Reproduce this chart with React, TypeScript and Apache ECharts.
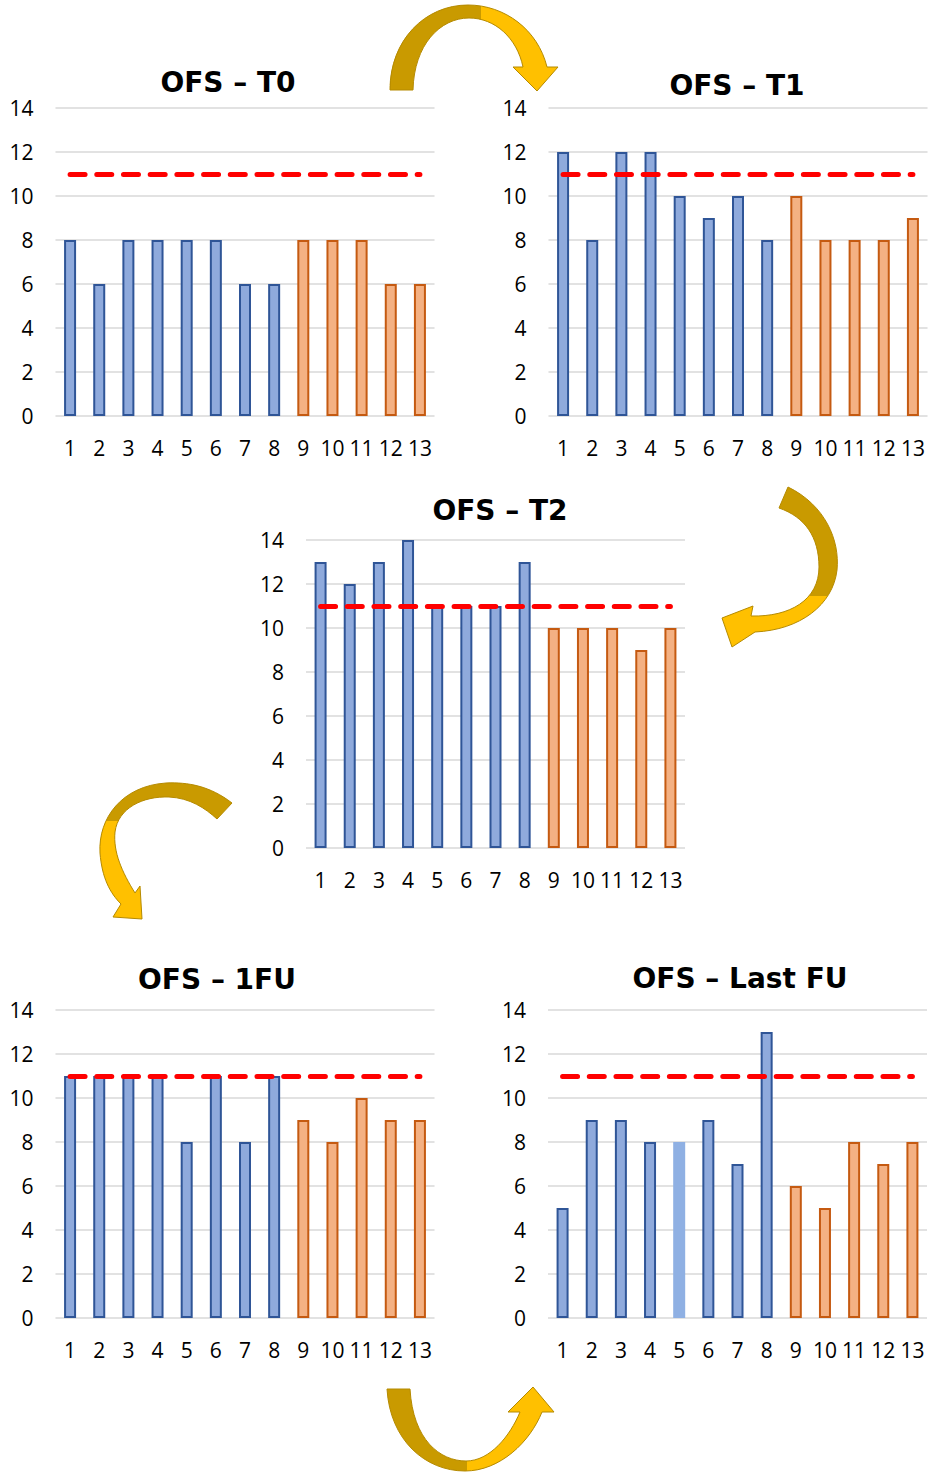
import React, { useEffect, useRef } from "react";
import * as echarts from "echarts";

// ---------- data ----------
const CATEGORIES = ["1", "2", "3", "4", "5", "6", "7", "8", "9", "10", "11", "12", "13"];
const T0_VALUES = [8, 6, 8, 8, 8, 8, 6, 6, 8, 8, 8, 6, 6];
const T1_VALUES = [12, 8, 12, 12, 10, 9, 10, 8, 10, 8, 8, 8, 9];
const T2_VALUES = [13, 12, 13, 14, 11, 11, 11, 13, 10, 10, 10, 9, 10];
const FU1_VALUES = [11, 11, 11, 11, 8, 11, 8, 11, 9, 8, 10, 9, 9];
const LASTFU_VALUES = [5, 9, 9, 8, 8, 9, 7, 13, 6, 5, 8, 7, 8];
const TITLES = ["OFS – T0", "OFS – T1", "OFS – T2", "OFS – 1FU", "OFS – Last FU"];
const Y_TICKS = [0, 2, 4, 6, 8, 10, 12, 14];
const THRESHOLD = 11;
const BLUE_COUNT = 8; // categories 1..8 blue, 9..13 orange
const LASTFU_BORDERLESS = ["5"]; // bar drawn without outline in last panel

// ---------- arrows (decorative shapes) ----------
const ARROWS: Record<string, { d: string; grad: number[]; split: number; darkFirst: boolean }> = {
  arrowTop: {
    d: "M390 90 C390 40 425 5 468 5 C505 5 538 30 547 67 L558 67 L537 91 L513 67 L523 67 C517 38 495 18 469 18 C440 18 414 45 413 90 Z",
    grad: [0, 0, 1, 0],
    split: 0.54,
    darkFirst: true,
  },
  arrowRight: {
    d: "M788 487 C825 505 840 540 837 570 C833 605 800 630 755 632 L732 647 L722 618 L753 606 L751 616 C790 617 819 600 819 567 C819 537 805 517 779 508 Z",
    grad: [0, 0, 0, 1],
    split: 0.68,
    darkFirst: true,
  },
  arrowLeft: {
    d: "M232 803 C210 786 188 782 166 783 C122 786 98 818 100 853 C102 878 110 893 121 904 L113 917 L142 919 L140 886 L135 893 C122 872 113 852 115 832 C118 808 143 796 169 797 C190 798 205 808 217 819 Z",
    grad: [0, 0, 0, 1],
    split: 0.28,
    darkFirst: true,
  },
  arrowBottom: {
    d: "M387 1389 C390 1440 425 1471 465 1471 C500 1471 530 1442 542 1412 L554 1412 L533 1387 L508 1412 L520 1412 C510 1436 490 1461 466 1461 C440 1461 413 1440 410 1389 Z",
    grad: [0, 0, 1, 0],
    split: 0.48,
    darkFirst: true,
  },
};

let registered = false;
function registerArrows() {
  if (registered) return;
  registered = true;
  Object.keys(ARROWS).forEach((k) => {
    echarts.graphic.registerShape(k, echarts.graphic.extendPath(ARROWS[k].d, {}));
  });
}

const PANEL_VALUES = [T0_VALUES, T1_VALUES, T2_VALUES, FU1_VALUES, LASTFU_VALUES];

// layout (page pixels)
const GRIDS = [
  { left: 55.5, top: 108 },
  { left: 548.5, top: 108 },
  { left: 306, top: 540 },
  { left: 55.5, top: 1010 },
  { left: 548, top: 1010 },
];
const TITLE_POS = [
  [228, 82],
  [737, 85],
  [500, 510],
  [217, 979],
  [740, 978],
];

const DARK_GOLD = "#c99a00";
const BRIGHT_GOLD = "#ffc000";

export default function App() {
  const ref = useRef<HTMLDivElement>(null);
  useEffect(() => {
    if (!ref.current) return;
    registerArrows();
    const chart = echarts.init(ref.current, undefined, { renderer: "svg" });

    const blueStyle = { color: "#8faadc", borderColor: "#2f5597", borderWidth: 2 };
    const orangeStyle = { color: "#f4b183", borderColor: "#c55a11", borderWidth: 2 };

    const grid = GRIDS.map((g) => ({ left: g.left, top: g.top, width: 379, height: 308, containLabel: false }));
    const xAxis = GRIDS.map((_, i) => ({
      type: "category",
      gridIndex: i,
      data: CATEGORIES,
      axisLine: { show: false },
      axisTick: { show: false },
      axisLabel: { margin: 21, fontSize: 21, color: "#000", fontFamily: "Open Sans", interval: 0 },
      splitLine: { show: false },
    }));
    const yAxis = GRIDS.map((_, i) => ({
      type: "value",
      gridIndex: i,
      min: Y_TICKS[0],
      max: Y_TICKS[Y_TICKS.length - 1],
      interval: Y_TICKS[1] - Y_TICKS[0],
      axisLine: { show: false },
      axisTick: { show: false },
      axisLabel: { margin: 22, fontSize: 21, color: "#000", fontFamily: "Open Sans" },
      splitLine: { show: true, lineStyle: { color: "#e2e2e2", width: 2 } },
    }));

    const series = PANEL_VALUES.map((vals, i) => ({
      type: "bar",
      xAxisIndex: i,
      yAxisIndex: i,
      barWidth: 12,
      data: vals.map((v, j) => {
        let style: any = j < BLUE_COUNT ? blueStyle : orangeStyle;
        if (i === 4 && LASTFU_BORDERLESS.includes(CATEGORIES[j])) {
          style = { color: "#8fb0e3", borderWidth: 0 };
        }
        return { value: v, itemStyle: style };
      }),
      markLine: {
        silent: true,
        symbol: ["none", "none"],
        label: { show: false },
        lineStyle: { color: "#ff0000", width: 5, type: [15, 11.7], cap: "round" },
        data: [[{ coord: [CATEGORIES[0], THRESHOLD] }, { coord: [CATEGORIES[CATEGORIES.length - 1], THRESHOLD] }]],
      },
    }));

    const titleTexts = TITLES.map((t, i) => ({
      type: "text",
      x: TITLE_POS[i][0],
      y: TITLE_POS[i][1],
      style: {
        text: t,
        font: "bold 28px 'DejaVu Sans'",
        fill: "#000",
        textAlign: "center",
        textVerticalAlign: "middle",
      },
    }));

    const arrows = Object.keys(ARROWS).map((k) => {
      const a = ARROWS[k];
      const first = a.darkFirst ? DARK_GOLD : BRIGHT_GOLD;
      const second = a.darkFirst ? BRIGHT_GOLD : DARK_GOLD;
      return {
        type: k,
        x: 0,
        y: 0,
        style: {
          fill: new echarts.graphic.LinearGradient(a.grad[0], a.grad[1], a.grad[2], a.grad[3], [
            { offset: 0, color: first },
            { offset: a.split, color: first },
            { offset: a.split, color: second },
            { offset: 1, color: second },
          ]),
          stroke: "#b58a00",
          lineWidth: 1,
        },
      };
    });

    chart.setOption({
      animation: false,
      backgroundColor: "#ffffff",
      grid,
      xAxis,
      yAxis,
      series,
      graphic: [...arrows, ...titleTexts],
    });
    return () => chart.dispose();
  }, []);

  return (
    <div
      ref={ref}
      style={{ position: "absolute", left: 0, top: 0, width: 935, height: 1478 }}
    />
  );
}
